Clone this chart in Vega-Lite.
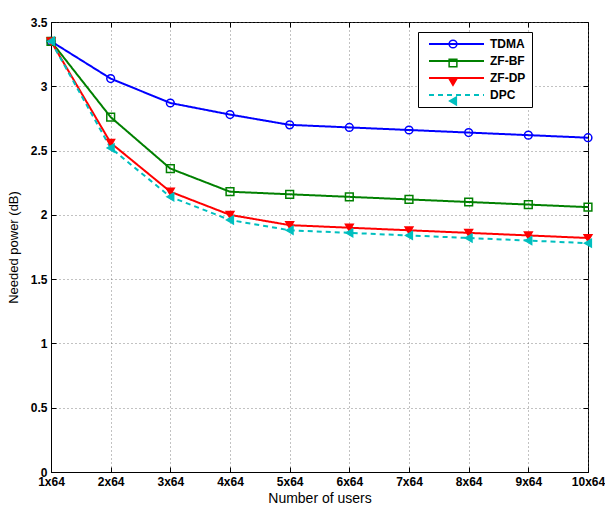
{
  "$schema": "https://vega.github.io/schema/vega-lite/v6.json",
  "width": 537,
  "height": 450,
  "autosize": {"type": "none"},
  "padding": {"left": 51, "top": 22, "right": 17, "bottom": 36},
  "background": "white",
  "config": {
    "font": "Liberation Sans",
    "view": {"stroke": "black", "strokeWidth": 1},
    "axis": {
      "domainColor": "black",
      "tickColor": "black",
      "labelColor": "black",
      "titleColor": "black",
      "labelFont": "Liberation Sans",
      "titleFont": "Liberation Sans",
      "labelFontSize": 12,
      "labelFontWeight": "bold",
      "titleFontWeight": "normal",
      "gridColor": "#666666",
      "gridDash": [1, 3],
      "gridWidth": 1,
      "gridOpacity": 0.8
    }
  },
  "data": {
    "values": [
      {"users": 1, "series": "TDMA", "power": 3.35},
      {"users": 2, "series": "TDMA", "power": 3.06},
      {"users": 3, "series": "TDMA", "power": 2.87},
      {"users": 4, "series": "TDMA", "power": 2.78},
      {"users": 5, "series": "TDMA", "power": 2.70},
      {"users": 6, "series": "TDMA", "power": 2.68},
      {"users": 7, "series": "TDMA", "power": 2.66},
      {"users": 8, "series": "TDMA", "power": 2.64},
      {"users": 9, "series": "TDMA", "power": 2.62},
      {"users": 10, "series": "TDMA", "power": 2.60},
      {"users": 1, "series": "ZF-BF", "power": 3.35},
      {"users": 2, "series": "ZF-BF", "power": 2.76},
      {"users": 3, "series": "ZF-BF", "power": 2.36},
      {"users": 4, "series": "ZF-BF", "power": 2.18},
      {"users": 5, "series": "ZF-BF", "power": 2.16},
      {"users": 6, "series": "ZF-BF", "power": 2.14},
      {"users": 7, "series": "ZF-BF", "power": 2.12},
      {"users": 8, "series": "ZF-BF", "power": 2.10},
      {"users": 9, "series": "ZF-BF", "power": 2.08},
      {"users": 10, "series": "ZF-BF", "power": 2.06},
      {"users": 1, "series": "ZF-DP", "power": 3.35},
      {"users": 2, "series": "ZF-DP", "power": 2.56},
      {"users": 3, "series": "ZF-DP", "power": 2.18},
      {"users": 4, "series": "ZF-DP", "power": 2.00},
      {"users": 5, "series": "ZF-DP", "power": 1.92},
      {"users": 6, "series": "ZF-DP", "power": 1.90},
      {"users": 7, "series": "ZF-DP", "power": 1.88},
      {"users": 8, "series": "ZF-DP", "power": 1.86},
      {"users": 9, "series": "ZF-DP", "power": 1.84},
      {"users": 10, "series": "ZF-DP", "power": 1.82},
      {"users": 1, "series": "DPC", "power": 3.35},
      {"users": 2, "series": "DPC", "power": 2.52},
      {"users": 3, "series": "DPC", "power": 2.14},
      {"users": 4, "series": "DPC", "power": 1.96},
      {"users": 5, "series": "DPC", "power": 1.88},
      {"users": 6, "series": "DPC", "power": 1.86},
      {"users": 7, "series": "DPC", "power": 1.84},
      {"users": 8, "series": "DPC", "power": 1.82},
      {"users": 9, "series": "DPC", "power": 1.80},
      {"users": 10, "series": "DPC", "power": 1.78}
    ]
  },
  "layer": [
    {
      "mark": {"type": "line", "strokeWidth": 2},
      "encoding": {
        "x": {
          "field": "users", "type": "quantitative",
          "scale": {"domain": [1, 10], "nice": false, "zero": false},
          "axis": {
            "values": [1, 2, 3, 4, 5, 6, 7, 8, 9, 10],
            "labelExpr": "datum.value + 'x64'",
            "title": "Number of users",
            "titleFontSize": 14,
            "titlePadding": 4,
            "tickSize": -5,
            "labelPadding": 9,
            "labelFlush": false,
            "labelOverlap": false
          }
        },
        "y": {
          "field": "power", "type": "quantitative",
          "scale": {"domain": [0, 3.5], "nice": false},
          "axis": {
            "values": [0, 0.5, 1, 1.5, 2, 2.5, 3, 3.5],
            "format": ".1~f",
            "title": "Needed power (dB)",
            "titleFontSize": 13,
            "titlePadding": 10,
            "tickSize": -5,
            "labelPadding": 9,
            "labelFlush": false
          }
        },
        "color": {
          "field": "series", "type": "nominal",
          "scale": {"domain": ["TDMA", "ZF-BF", "ZF-DP", "DPC"], "range": ["#0000ff", "#008000", "#ff0000", "#00bfbf"]},
          "legend": {
            "title": null,
            "orient": "none",
            "legendX": 367,
            "legendY": 10,
            "padding": 6,
            "strokeColor": "black",
            "fillColor": "white",
            "cornerRadius": 0,
            "symbolType": "M-0.2,0H10.8",
            "symbolSize": 100,
            "symbolStrokeWidth": 2,
            "labelFont": "Liberation Sans",
            "labelFontSize": 12,
            "labelFontWeight": "bold",
            "labelColor": "black",
            "labelOffset": 54,
            "rowPadding": 5,
            "labelExpr": "datum.label + '\u00a0\u00a0\u00a0\u00a0\u00a0\u00a0\u00a0\u00a0\u00a0'"
          }
        },
        "strokeDash": {
          "field": "series", "type": "nominal",
          "scale": {"domain": ["TDMA", "ZF-BF", "ZF-DP", "DPC"], "range": [[1, 0], [1, 0], [1, 0], [5, 4]]}
        }
      }
    },
    {
      "mark": {"type": "point", "filled": true, "strokeWidth": 1.5, "opacity": 1, "fillOpacity": 1},
      "encoding": {
        "x": {"field": "users", "type": "quantitative", "axis": {"orient": "top", "values": [1, 2, 3, 4, 5, 6, 7, 8, 9, 10], "labels": false, "title": null, "grid": false, "domain": false, "tickSize": -5}},
        "y": {"field": "power", "type": "quantitative", "axis": {"orient": "right", "values": [0, 0.5, 1, 1.5, 2, 2.5, 3, 3.5], "labels": false, "title": null, "grid": false, "domain": false, "tickSize": -5}},
        "stroke": {
          "field": "series", "type": "nominal",
          "scale": {"domain": ["DPC", "TDMA", "ZF-BF", "ZF-DP"], "range": ["#00bfbf", "#0000ff", "#008000", "#ff0000"]}
        },
        "fill": {
          "field": "series", "type": "nominal",
          "scale": {"domain": ["DPC", "TDMA", "ZF-BF", "ZF-DP"], "range": ["#00bfbf", "transparent", "transparent", "#ff0000"]}
        },
        "shape": {
          "field": "series", "type": "nominal",
          "scale": {"domain": ["DPC", "TDMA", "ZF-BF", "ZF-DP"], "range": ["triangle-left", "circle", "square", "triangle-down"]},
          "legend": {
            "title": null,
            "values": ["TDMA", "ZF-BF", "ZF-DP", "DPC"],
            "orient": "none",
            "legendX": 396,
            "legendY": 16,
            "padding": 0,
            "symbolSize": 60,
            "symbolStrokeWidth": 1.5,
            "labelFontSize": 12,
            "labelFontWeight": "bold",
            "labelExpr": "''",
            "rowPadding": 5
          }
        },
        "size": {"value": 60}
      }
    }
  ],
  "resolve": {"axis": {"x": "independent", "y": "independent"}}
}
